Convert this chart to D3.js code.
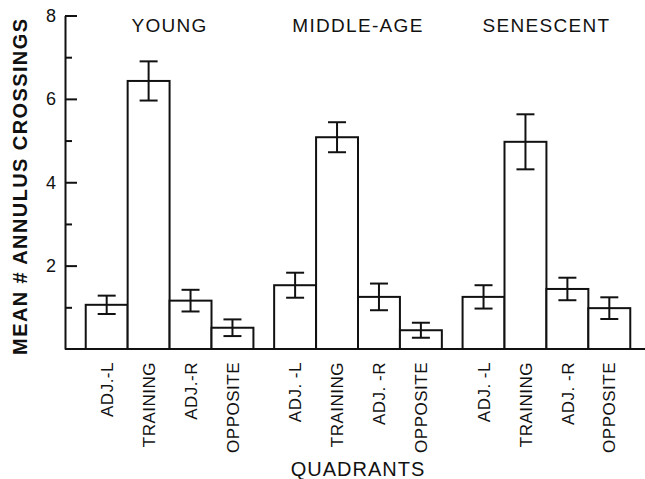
<!DOCTYPE html>
<html>
<head>
<meta charset="utf-8">
<script src="https://cdn.jsdelivr.net/npm/d3@7.9.0/dist/d3.min.js"></script>
<style>
  body { margin: 0; background: #fff; }
  svg { display: block; font-family: "Liberation Sans", Arial, sans-serif; }
</style>
</head>
<body>
<div id="chart"></div>
<script>
// groups and quadrants
const groups = ['YOUNG', 'MIDDLE-AGE', 'SENESCENT'];
const quadrants = ['ADJ.-L', 'TRAINING', 'ADJ.-R', 'OPPOSITE'];

// printed quadrant labels, as typeset under each group
const youngLabels = ['ADJ.-L', 'TRAINING', 'ADJ.-R', 'OPPOSITE'];
const middleAgeLabels = ['ADJ. -L', 'TRAINING', 'ADJ. -R', 'OPPOSITE'];
const senescentLabels = ['ADJ. -L', 'TRAINING', 'ADJ. -R', 'OPPOSITE'];

// mean crossings per group (same order as quadrants)
const young = [1.06, 6.43, 1.16, 0.51];
const middleAge = [1.53, 5.08, 1.25, 0.45];
const senescent = [1.25, 4.97, 1.44, 0.98];

// standard errors
const youngErr = [0.22, 0.47, 0.26, 0.20];
const middleAgeErr = [0.30, 0.36, 0.32, 0.18];
const senescentErr = [0.28, 0.66, 0.27, 0.26];

const majorTicks = [2, 4, 6, 8];
const minorTicks = [1, 3, 5, 7];

const means = [young, middleAge, senescent];
const errs = [youngErr, middleAgeErr, senescentErr];
const labels = [youngLabels, middleAgeLabels, senescentLabels];

const data = [];
groups.forEach((g, gi) => {
  quadrants.forEach((q, qi) => {
    data.push({ group: g, quad: q, label: labels[gi][qi], value: means[gi][qi], err: errs[gi][qi] });
  });
});

const width = 645;
const height = 479;

const svg = d3.select('#chart')
  .append('svg')
  .attr('width', width)
  .attr('height', height);

// scales
const y = d3.scaleLinear()
  .domain([0, 8])
  .range([349, 15.5]);

const x0 = d3.scaleBand()
  .domain(groups)
  .range([65, 651])
  .paddingInner(0.11)
  .paddingOuter(0.11);

const x1 = d3.scaleBand()
  .domain(quadrants)
  .range([0, x0.bandwidth()]);

// bars
const gGroups = svg.selectAll('g.grp')
  .data(groups)
  .join('g')
  .attr('class', 'grp')
  .attr('transform', d => `translate(${x0(d)},0)`);

gGroups.selectAll('rect')
  .data(g => data.filter(d => d.group === g))
  .join('rect')
  .attr('x', d => x1(d.quad))
  .attr('y', d => y(d.value))
  .attr('width', x1.bandwidth())
  .attr('height', d => y(0) - y(d.value))
  .attr('fill', '#fff')
  .attr('stroke', '#111')
  .attr('stroke-width', 2);

// error bars
const cap = 9;
const eb = gGroups.selectAll('g.eb')
  .data(g => data.filter(d => d.group === g))
  .join('g')
  .attr('class', 'eb')
  .attr('transform', d => `translate(${x1(d.quad) + x1.bandwidth() / 2},0)`)
  .attr('stroke', '#111')
  .attr('stroke-width', 2);

eb.append('line')
  .attr('y1', d => y(d.value - d.err))
  .attr('y2', d => y(d.value + d.err));
eb.append('line')
  .attr('x1', -cap).attr('x2', cap)
  .attr('y1', d => y(d.value + d.err))
  .attr('y2', d => y(d.value + d.err));
eb.append('line')
  .attr('x1', -cap).attr('x2', cap)
  .attr('y1', d => y(d.value - d.err))
  .attr('y2', d => y(d.value - d.err));

// group titles
gGroups.append('text')
  .attr('x', x0.bandwidth() / 2)
  .attr('y', 31.5)
  .attr('text-anchor', 'middle')
  .attr('font-size', 19)
  .attr('letter-spacing', 1.3)
  .attr('fill', '#111')
  .text(d => d);

// quadrant labels (rotated)
gGroups.selectAll('text.q')
  .data(g => data.filter(d => d.group === g))
  .join('text')
  .attr('class', 'q')
  .attr('transform', d => `translate(${x1(d.quad) + x1.bandwidth() / 2},${y(0) + 13}) rotate(-90)`)
  .attr('dy', '0.36em')
  .attr('text-anchor', 'end')
  .attr('font-size', 17)
  .attr('letter-spacing', 0.5)
  .attr('fill', '#111')
  .text(d => d.label);

// baseline
svg.append('line')
  .attr('x1', x0.range()[0])
  .attr('x2', width)
  .attr('y1', y(0))
  .attr('y2', y(0))
  .attr('stroke', '#111')
  .attr('stroke-width', 2);

// y axis: major ticks point inward
const yAxis = svg.append('g')
  .attr('transform', `translate(${x0.range()[0]},0)`)
  .call(d3.axisLeft(y).tickValues(majorTicks).tickSizeInner(-12).tickSizeOuter(0).tickPadding(9));

yAxis.select('.domain').attr('stroke', '#111').attr('stroke-width', 2);
yAxis.selectAll('.tick line').attr('stroke', '#111').attr('stroke-width', 2);
yAxis.selectAll('.tick text')
  .attr('font-size', 18)
  .attr('font-family', '"Liberation Sans", Arial, sans-serif')
  .attr('fill', '#111');

// minor ticks
const yMinor = svg.append('g')
  .attr('transform', `translate(${x0.range()[0]},0)`)
  .call(d3.axisLeft(y).tickValues(minorTicks).tickSizeInner(-7).tickSizeOuter(0).tickFormat(''));
yMinor.select('.domain').remove();
yMinor.selectAll('.tick line').attr('stroke', '#111').attr('stroke-width', 2);

// axis titles
svg.append('text')
  .attr('transform', `translate(27,${(y(0) + y(8)) / 2 + 4}) rotate(-90)`)
  .attr('text-anchor', 'middle')
  .attr('font-size', 20)
  .attr('font-weight', 'bold')
  .attr('letter-spacing', 1.4)
  .attr('fill', '#111')
  .text('MEAN # ANNULUS CROSSINGS');

svg.append('text')
  .attr('x', 358)
  .attr('y', 476)
  .attr('text-anchor', 'middle')
  .attr('font-size', 20)
  .attr('letter-spacing', 1)
  .attr('fill', '#111')
  .text('QUADRANTS');
</script>
</body>
</html>
